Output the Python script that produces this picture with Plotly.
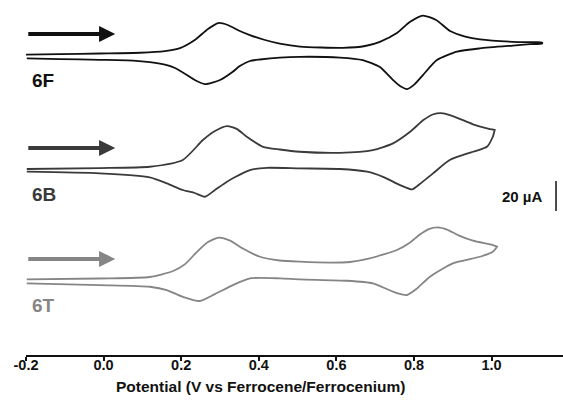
import plotly.graph_objects as go

# Cyclic voltammograms of 6F, 6B and 6T (potential in V vs Fc/Fc+, current in µA)

# --- 6F ---
f_fwd_E = [-0.20, -0.113, -0.010, 0.094, 0.158, 0.197, 0.235, 0.269, 0.295, 0.320, 0.351, 0.377,
           0.416, 0.454, 0.506, 0.617, 0.674, 0.712, 0.756, 0.789, 0.823, 0.857, 0.893, 0.932,
           0.970, 1.055, 1.112, 1.130]
f_fwd_I = [1.0, 1.3, 1.7, 2.2, 3.3, 5.3, 10.7, 18.0, 22.0, 20.7, 16.7, 14.0,
           10.7, 8.3, 6.3, 5.5, 6.7, 9.5, 15.3, 22.7, 27.0, 24.0, 16.7, 13.0,
           11.1, 9.5, 9.2, 9.0]
f_rev_E = [1.130, 1.099, 1.055, 0.970, 0.911, 0.859, 0.823, 0.802, 0.782, 0.764, 0.746, 0.712,
           0.668, 0.609, 0.506, 0.454, 0.403, 0.377, 0.351, 0.333, 0.300, 0.261, 0.235, 0.215,
           0.184, 0.163, 0.119, 0.076, -0.010, -0.113, -0.198]
f_rev_I = [8.3, 7.9, 7.0, 5.1, 2.9, -2.7, -12.7, -18.7, -22.0, -20.0, -16.0, -7.3,
           -2.7, -1.0, -0.5, -1.0, -2.3, -3.3, -6.7, -10.5, -16.0, -18.7, -16.0, -12.7,
           -8.0, -6.0, -4.0, -3.0, -2.5, -2.0, -1.5]

# --- 6B ---
b_fwd_E = [-0.198, -0.010, 0.119, 0.204, 0.256, 0.287, 0.318, 0.344, 0.369, 0.411, 0.454,
           0.506, 0.609, 0.694, 0.746, 0.790, 0.825, 0.850, 0.875, 0.905, 0.952, 0.988, 1.008]
b_fwd_I = [0.7, 1.3, 2.2, 6.7, 20.0, 26.0, 29.3, 27.3, 22.2, 15.5, 13.7,
           12.2, 11.5, 13.3, 17.8, 25.5, 33.5, 37.2, 37.8, 35.5, 30.5, 27.8, 26.7]
b_rev_E = [1.008, 1.003, 0.988, 0.952, 0.892, 0.849, 0.815, 0.795, 0.764, 0.720, 0.679, 0.609,
           0.506, 0.421, 0.377, 0.344, 0.318, 0.287, 0.261, 0.235, 0.204, 0.163, 0.119,
           -0.010, -0.198]
b_rev_I = [26.7, 22.2, 15.5, 12.2, 6.7, -2.2, -9.3, -12.9, -10.0, -4.5, -1.1, 0.7,
           1.1, 1.5, 0.0, -4.0, -7.8, -13.3, -17.8, -15.3, -13.3, -8.9, -4.9,
           -2.2, -1.1]

# --- 6T ---
t_fwd_E = [-0.198, -0.010, 0.119, 0.179, 0.210, 0.240, 0.269, 0.297, 0.326, 0.359, 0.403,
           0.454, 0.506, 0.583, 0.635, 0.686, 0.756, 0.789, 0.815, 0.840, 0.862, 0.885, 0.915,
           0.952, 1.003, 1.014]
t_fwd_I = [1.1, 1.7, 2.7, 6.7, 11.3, 19.3, 26.0, 29.0, 27.0, 21.7, 16.2,
           13.7, 12.9, 12.3, 12.7, 15.1, 20.7, 25.5, 31.0, 34.8, 35.8, 34.3, 30.5,
           26.9, 24.0, 22.9]
t_rev_E = [1.014, 1.003, 0.970, 0.900, 0.841, 0.808, 0.782, 0.746, 0.694, 0.627, 0.506,
           0.454, 0.377, 0.333, 0.287, 0.248, 0.204, 0.163, 0.119, -0.010, -0.198]
t_rev_I = [22.9, 19.5, 16.2, 11.8, 2.9, -4.9, -9.3, -7.1, -1.5, 0.2, 1.1,
           1.8, 1.8, -2.7, -8.7, -13.3, -10.5, -6.0, -3.8, -2.7, -1.5]

x_ticks = [-0.2, 0.0, 0.2, 0.4, 0.6, 0.8, 1.0]
x_tick_text = ["-0.2", "0.0", "0.2", "0.4", "0.6", "0.8", "1.0"]
scale_bar_uA = 20

# stacking of the traces (vertical offsets in µA) and their styling
curves = [
    ("6F", f_fwd_E + f_rev_E, f_fwd_I + f_rev_I, 199.3, "#111111"),
    ("6B", b_fwd_E + b_rev_E, b_fwd_I + b_rev_I, 123.3, "#3a3a3a"),
    ("6T", t_fwd_E + t_rev_E, t_fwd_I + t_rev_I, 49.3, "#858585"),
]

FONT = "Liberation Sans, Arial, sans-serif"
fig = go.Figure()
annotations = []
for name, E, I, off, col in curves:
    fig.add_trace(go.Scatter(
        x=E, y=[v + off for v in I], mode="lines",
        line=dict(color=col, width=1.8, shape="spline", smoothing=0.6),
        hoverinfo="skip", showlegend=False))
    # scan-direction arrow
    annotations.append(dict(
        x=0.03, y=off + 14.7, ax=-0.198, ay=off + 14.7,
        xref="x", yref="y", axref="x", ayref="y",
        showarrow=True, arrowhead=2, arrowsize=0.85, arrowwidth=3.8,
        arrowcolor=col, text=""))
    # compound label
    annotations.append(dict(
        x=-0.19, y=off - 16.3, xref="x", yref="y", text=f"<b>{name}</b>",
        showarrow=False, xanchor="left", yanchor="middle",
        font=dict(family=FONT, size=19, color=col)))

# 20 µA scale bar
bar_x = 1.166
bar_lo = 96
fig.add_trace(go.Scatter(
    x=[bar_x, bar_x], y=[bar_lo, bar_lo + scale_bar_uA], mode="lines",
    line=dict(color="#111111", width=1.5), hoverinfo="skip", showlegend=False))
annotations.append(dict(
    x=1.134, y=bar_lo + scale_bar_uA / 2, xref="x", yref="y",
    text=f"<b>{scale_bar_uA} µA</b>", showarrow=False, xanchor="right",
    yanchor="middle", font=dict(family=FONT, size=15, color="#111111")))

# axis title
annotations.append(dict(
    x=0.404, y=0, xref="x", yref="paper", yshift=-31,
    text="<b>Potential (V vs Ferrocene/Ferrocenium)</b>", showarrow=False,
    xanchor="center", yanchor="middle",
    font=dict(family=FONT, size=15.5, color="#111111")))

fig.update_layout(
    width=563, height=401,
    margin=dict(l=26, r=0, t=0, b=46),
    paper_bgcolor="white", plot_bgcolor="white",
    annotations=annotations,
    xaxis=dict(
        range=[-0.2, 1.184], tickvals=x_ticks,
        ticktext=[f"<b>{t}</b>" for t in x_tick_text],
        showline=True, linecolor="#111111", linewidth=1.5,
        ticks="outside", ticklen=4, tickwidth=1.5, tickcolor="#111111",
        ticklabelstandoff=-8,
        showgrid=False, zeroline=False,
        tickfont=dict(family=FONT, size=14.5, color="#111111")),
    yaxis=dict(range=[0, 236.67], visible=False, showgrid=False, zeroline=False),
)

fig.write_html("out.html")
